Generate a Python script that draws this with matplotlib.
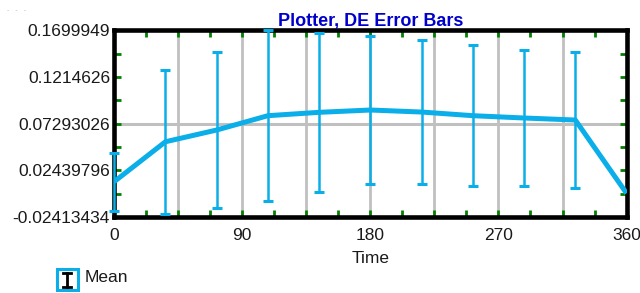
import numpy as np
import matplotlib
matplotlib.use('Agg')
from matplotlib import pyplot as plt
from matplotlib.patches import Rectangle
from matplotlib.lines import Line2D

# data
time = [0, 36, 72, 108, 144, 180, 216, 252, 288, 324, 360]
mean = [0.0126, 0.0541, 0.0663, 0.0812, 0.0847, 0.0871,
        0.0850, 0.0812, 0.0788, 0.0767, 0.0005]
err = [0.030, 0.075, 0.081, 0.089, 0.083, 0.077,
       0.075, 0.073, 0.071, 0.071, np.nan]

y_ticks = [-0.02413434, 0.02439796, 0.07293026, 0.1214626, 0.1699949]
y_labels = ['-0.02413434', '0.02439796', '0.07293026', '0.1214626', '0.1699949']
x_ticks = [0, 90, 180, 270, 360]

plt.rcParams['font.family'] = ['Liberation Sans', 'DejaVu Sans']

cyan = '#0AAEE8'
green = '#008000'
grid = '#C0C0C0'
text = '#1a1a1a'
fs = 12.5

fig = plt.figure(figsize=(6.4, 2.93), dpi=100)
ax = fig.add_axes([0.1784, 0.2594, 0.8006, 0.6372])

# grid: vertical every 45, horizontal only at the middle value
for gx in np.arange(45, 360, 45):
    ax.axvline(gx, color=grid, lw=2, zorder=1)
ax.axhline(y_ticks[2], color=grid, lw=2.2, zorder=1)

eb = ax.errorbar(time, mean, yerr=err, fmt='none', ecolor=cyan,
                 elinewidth=1.8, capsize=3.8, capthick=2.2, zorder=4)
for child in eb.get_children():
    child.set_clip_on(False)

ax.plot(time, mean, color=cyan, lw=3.6, zorder=5, solid_capstyle='butt')

ax.set_xlim(0, 360)
ax.set_ylim(y_ticks[0], y_ticks[-1])
ax.set_xticks(x_ticks)
ax.set_xticks(np.arange(0, 361, 22.5), minor=True)
ax.set_yticks(y_ticks)
ax.set_yticklabels(y_labels)
ax.set_yticks(np.linspace(y_ticks[0], y_ticks[-1], 9), minor=True)

ax.tick_params(which='both', direction='in', length=5, width=2,
               color=green, top=True, right=True, labelsize=fs,
               labelcolor=text)
ax.tick_params(axis='x', which='major', pad=8)
ax.tick_params(axis='y', which='major', pad=3)

for sp in ax.spines.values():
    sp.set_linewidth(3.3)
    sp.set_color('black')
    sp.set_zorder(3)

ax.set_xlabel('Time', fontsize=fs, color=text, labelpad=6)
ax.set_title('Plotter, DE Error Bars', color='#0000CD', fontweight='bold',
             fontsize=13, pad=3)

# legend drawn by hand: cyan box with black errorbar glyph
fig.add_artist(Rectangle((57 / 640, 1 - 290 / 293), 21 / 640, 21 / 293,
                         transform=fig.transFigure, facecolor='white',
                         edgecolor=cyan, lw=2.2))
cx = 67 / 640
y0, y1 = 1 - 287 / 293, 1 - 273 / 293
fig.add_artist(Line2D([cx, cx], [y0, y1], transform=fig.transFigure,
                      color='black', lw=2))
for yy in (y0, y1):
    fig.add_artist(Line2D([cx - 4 / 640, cx + 4 / 640], [yy, yy],
                          transform=fig.transFigure, color='black', lw=2))
fig.text(85 / 640, 1 - 278 / 293, 'Mean', fontsize=fs, color=text,
         va='center', ha='left')

fig.text(7 / 640, 1 - 11 / 293, '-   -   -', fontsize=5, color='#bbbbbb',
         va='center')

fig.savefig('out.png', dpi=100)
